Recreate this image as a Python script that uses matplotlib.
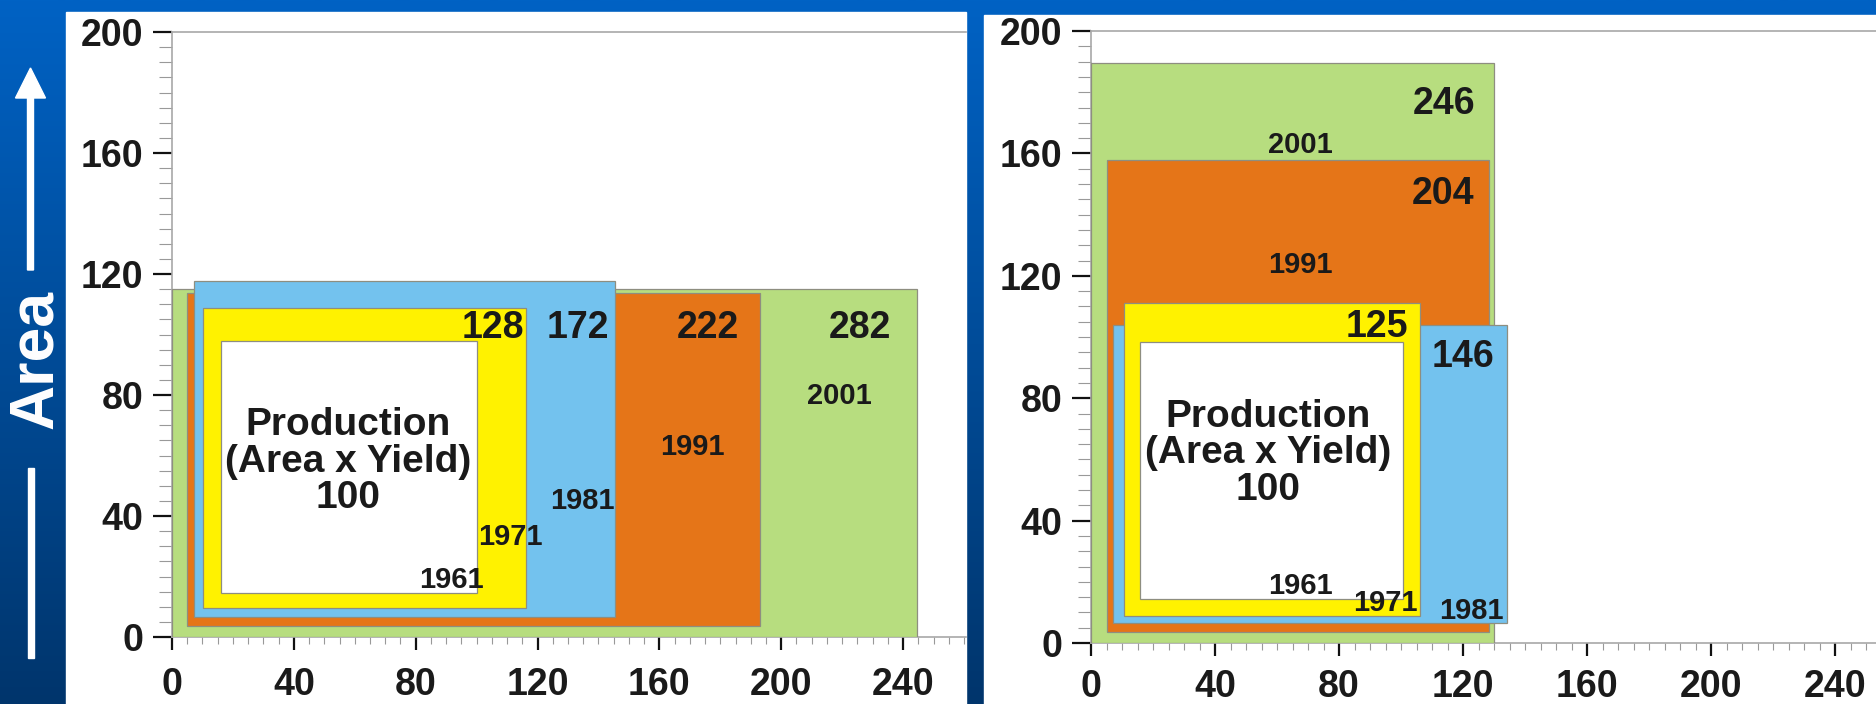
import numpy as np
import matplotlib.pyplot as plt
from matplotlib.patches import Rectangle, FancyArrow
from matplotlib.colors import LinearSegmentedColormap
from matplotlib.ticker import MultipleLocator

plt.rcParams['font.family'] = ['Liberation Sans', 'DejaVu Sans']
plt.rcParams['font.weight'] = 'bold'

years = ['1961', '1971', '1981', '1991', '2001']
colors = ['#ffffff', '#fff200', '#73c2ee', '#e57518', '#b7dd7f']

# left: rectangles (x0, y0, x1, y1) and production index per year
left_x0 = [16, 10.3, 7.2, 4.8, 0]
left_y0 = [14.5, 9.5, 6.7, 3.7, 0]
left_x1 = [100, 116.2, 145.5, 193.2, 244.6]
left_y1 = [98, 108.7, 117.7, 113.8, 115]
left_index = [100, 128, 172, 222, 282]

# right
right_x0 = [15.8, 10.6, 7.2, 5.0, 0]
right_y0 = [14.4, 8.8, 6.5, 3.7, 0]
right_x1 = [100.5, 106.1, 134.2, 128.4, 130]
right_y1 = [98.3, 111.2, 103.9, 158, 189.4]
right_index = [100, 125, 146, 204, 246]

xticks = [0, 40, 80, 120, 160, 200, 240]
yticks = [0, 40, 80, 120, 160, 200]

# label positions (year label, index label) for the boxes after 1961
left_year_pos = [(91.9, 19.8), (111, 34), (134.6, 46), (171, 63.8), (219, 80.7)]
left_index_pos = [None, (105.4, 103.5), (133.3, 103.5), (176, 103.5), (226, 103.5)]
left_prod_pos = (57.8, 58)
right_year_pos = [(67.6, 19.7), (95, 14.2), (122.8, 11.5), (67.4, 124.6), (67.4, 163.8)]
right_index_pos = [None, (92.3, 104.6), (120, 94.9), (113.5, 148), (114, 177.5)]
right_prod_pos = (57.1, 62)

W, H = 1876, 704
fig = plt.figure(figsize=(W / 100, H / 100), dpi=100)

# blue slide background with white panels
bg = fig.add_axes([0, 0, 1, 1])
bg.set_xlim(0, W)
bg.set_ylim(0, H)
bg.axis('off')
cmap = LinearSegmentedColormap.from_list('slide', ['#00356c', '#0062c4'])
grad = np.linspace(0, 1, 256).reshape(-1, 1)
bg.imshow(grad, extent=[0, W, 0, H], aspect='auto', cmap=cmap, origin='lower')
bg.add_patch(Rectangle((66, 0), 900, H - 12, color='white', zorder=2))
bg.add_patch(Rectangle((984, 0), W - 984, H - 15, color='white', zorder=2))

# "Area" axis title with arrow
bg.add_patch(FancyArrow(30.5, H - 270, 0, 202, width=6, head_width=30, head_length=30,
                        length_includes_head=True, color='white', zorder=3))
bg.add_patch(Rectangle((27.5, H - 658), 6, 190, color='white', zorder=3))
bg.text(52, H - 359.5, 'Area', color='white', fontsize=45, rotation=90,
        rotation_mode='anchor', ha='center', va='baseline', zorder=3)


def draw_panel(rect, xmax, x0, y0, x1, y1, index, year_pos, index_pos, prod_pos, xpad):
    ax = fig.add_axes(rect)
    ax.patch.set_visible(False)
    for i in range(len(years) - 1, -1, -1):
        ax.add_patch(Rectangle((x0[i], y0[i]), x1[i] - x0[i], y1[i] - y0[i],
                               facecolor=colors[i], edgecolor='#8e8e80', linewidth=0.9,
                               zorder=10 - i))
    for i in range(len(years)):
        ax.text(year_pos[i][0], year_pos[i][1], years[i], fontsize=21, color='#1a1a1a',
                ha='center', va='center_baseline', zorder=20)
        if index_pos[i] is not None:
            ax.text(index_pos[i][0], index_pos[i][1], str(index[i]), fontsize=27,
                    color='#1a1a1a', ha='center', va='center_baseline', zorder=20)
    ax.text(prod_pos[0], prod_pos[1], 'Production\n(Area x Yield)\n' + str(index[0]),
            fontsize=28, color='#1a1a1a', ha='center', va='center',
            multialignment='center', linespacing=1.02, zorder=20)

    ax.set_xlim(0, xmax)
    ax.set_ylim(0, 200)
    ax.set_xticks(xticks)
    ax.set_yticks(yticks)
    ax.xaxis.set_minor_locator(MultipleLocator(5))
    ax.yaxis.set_minor_locator(MultipleLocator(5))
    ax.tick_params(axis='y', which='major', length=13.7, width=1.6, color='#111111',
                   pad=7, labelsize=27, labelcolor='#1a1a1a')
    ax.tick_params(axis='y', which='minor', length=9.4, width=0.8, color='#999999')
    ax.tick_params(axis='x', which='major', length=9.4, width=1.6, color='#111111',
                   pad=xpad, labelsize=27, labelcolor='#1a1a1a')
    ax.tick_params(axis='x', which='minor', length=5, width=0.8, color='#999999')
    for side in ['left', 'bottom', 'top']:
        ax.spines[side].set_color('#a8a8a8')
        ax.spines[side].set_linewidth(1.2)
    ax.spines['right'].set_visible(False)
    ax.set_zorder(5)
    return ax


draw_panel([172 / W, (H - 637) / H, (966 - 172) / W, (637 - 32) / H], 794 / 3.046,
           left_x0, left_y0, left_x1, left_y1, left_index,
           left_year_pos, left_index_pos, left_prod_pos, 12)
draw_panel([1091 / W, (H - 643) / H, (W - 1091) / W, (643 - 31) / H], 785 / 3.1,
           right_x0, right_y0, right_x1, right_y1, right_index,
           right_year_pos, right_index_pos, right_prod_pos, 9)

fig.savefig('out.png', dpi=100)
